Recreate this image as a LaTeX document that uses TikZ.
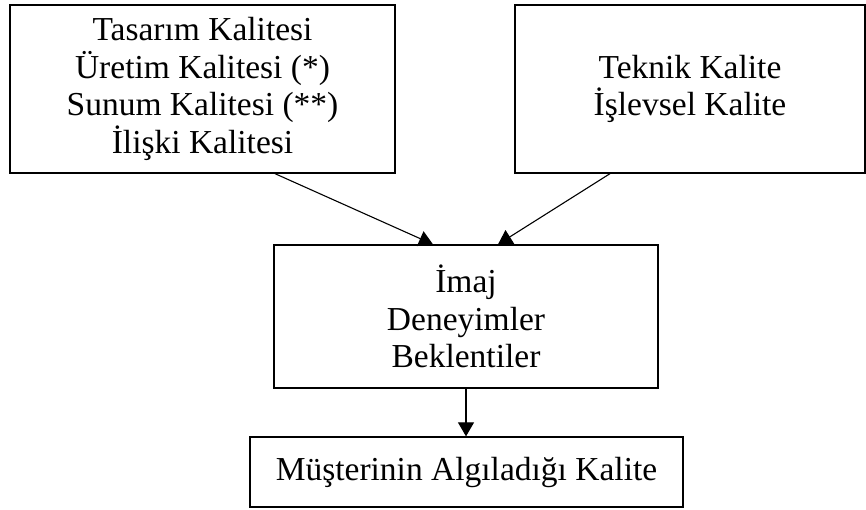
\documentclass[tikz,border=0pt]{standalone}
\usepackage{fontspec}
\setmainfont{Liberation Serif}
\usetikzlibrary{arrows.meta}
\usetikzlibrary{positioning}
\tikzstyle{quality_box} = [
    rectangle, 
    draw=black, 
    line width=1.3pt, 
    align=center, 
    inner sep=0pt, 
    font=\fontsize{33.5}{37.5}\selectfont
]
\tikzstyle{link} = [
    line width=1.1pt, 
    -{Triangle[length=14pt, width=16pt]}
]

\begin{document}
\begin{tikzpicture}[x=1pt, y=-1pt]
\useasboundingbox (0,0) rectangle (866,509);
% top row
\node [quality_box, minimum width=385pt, minimum height=168pt] (design) at (202.5,89)
    {Tasarım Kalitesi\\Üretim Kalitesi (*)\\Sunum Kalitesi (**)\\İlişki Kalitesi};
\node [quality_box, minimum width=350pt, minimum height=168pt] (technic) at (690,89)
    {Teknik Kalite\\İşlevsel Kalite};
% middle and bottom
\node [quality_box, minimum width=384pt, minimum height=143pt] (image) at (466,316.5)
    {İmaj\\Deneyimler\\Beklentiler};
\node [quality_box, minimum width=433pt, minimum height=70pt] (perceived) at (466.5,472)
    {Müşterinin Algıladığı Kalite};

\draw [link] ([xshift=72.5pt]design.south) -- ([xshift=-33pt]image.north);
\draw [link] ([xshift=-80pt]technic.south) -- ([xshift=32pt]image.north);
\draw [link] (image.south) -- (image.south |- perceived.north);
\end{tikzpicture}
\end{document}
